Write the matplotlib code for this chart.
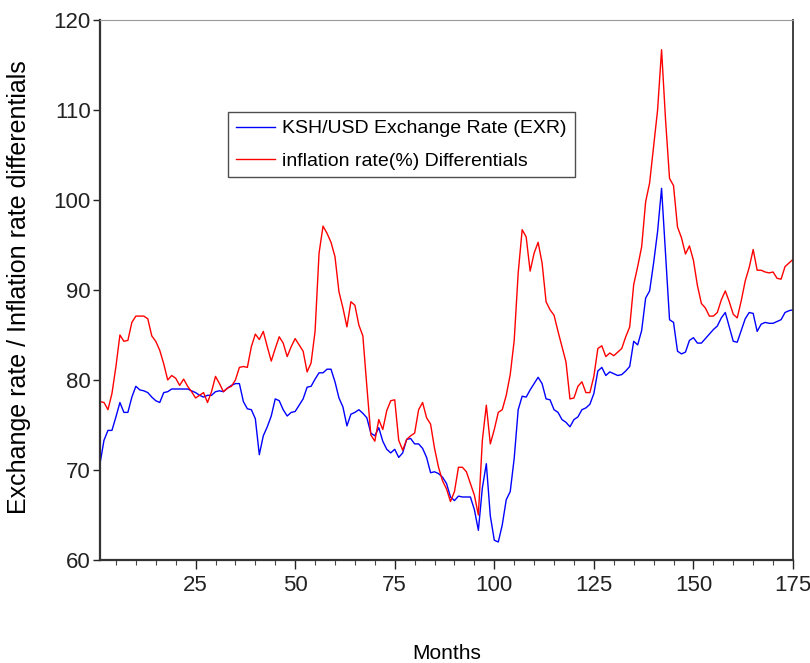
import numpy as np
import matplotlib
matplotlib.use('Agg')
import matplotlib.pyplot as plt
from matplotlib.ticker import MultipleLocator

plt.rcParams['font.family'] = ['Liberation Sans', 'DejaVu Sans']

exr = [70.7, 73.3, 74.4, 74.4, 75.9, 77.5, 76.4, 76.4, 78.1, 79.3,
       78.9, 78.8, 78.6, 78.1, 77.7, 77.5, 78.6, 78.7, 79.0, 79.0,
       79.0, 79.0, 79.0, 78.8, 78.6, 78.3, 78.1, 78.3, 78.3, 78.7,
       78.8, 78.7, 79.1, 79.4, 79.6, 79.6, 77.6, 76.8, 76.7, 75.7,
       71.7, 73.8, 74.8, 76.0, 77.9, 77.7, 76.7, 76.0, 76.4, 76.5,
       77.2, 77.9, 79.2, 79.3, 80.1, 80.8, 80.8, 81.2, 81.2, 79.8,
       78.0, 77.0, 74.9, 76.2, 76.4, 76.7, 76.3, 75.8, 74.1, 73.8,
       74.7, 73.2, 72.3, 71.9, 72.3, 71.4, 71.9, 73.4, 73.5, 72.9,
       72.9, 72.4, 71.4, 69.7, 69.8, 69.6, 69.2, 68.5, 67.0, 66.6,
       67.1, 67.0, 67.0, 67.0, 65.6, 63.3, 68.0, 70.7, 64.9, 62.2,
       62.0, 63.9, 66.7, 67.6, 71.3, 76.7, 78.2, 78.1, 78.9, 79.6,
       80.3, 79.6, 77.9, 77.8, 76.7, 76.4, 75.6, 75.3, 74.8, 75.6,
       75.9, 76.7, 76.9, 77.3, 78.5, 81.0, 81.4, 80.5, 80.9, 80.7,
       80.5, 80.6, 81.0, 81.5, 84.3, 83.9, 85.5, 89.1, 89.9, 93.0,
       96.5, 101.3, 94.0, 86.7, 86.4, 83.2, 82.9, 83.1, 84.4, 84.7,
       84.1, 84.1, 84.6, 85.1, 85.6, 86.0, 86.9, 87.5, 85.9, 84.3,
       84.2, 85.5, 86.8, 87.5, 87.4, 85.4, 86.2, 86.4, 86.3, 86.3,
       86.5, 86.7, 87.5, 87.7, 87.8]

infl = [77.6, 77.5, 76.7, 78.5, 81.5, 85.0, 84.3, 84.4, 86.4, 87.1,
        87.1, 87.1, 86.8, 84.9, 84.3, 83.3, 81.8, 80.0, 80.5, 80.2,
        79.4, 80.1, 79.3, 78.7, 78.0, 78.3, 78.6, 77.5, 78.7, 80.4,
        79.6, 78.7, 79.1, 79.3, 80.0, 81.4, 81.5, 81.4, 83.7, 85.1,
        84.5, 85.4, 83.7, 82.1, 83.5, 84.8, 84.1, 82.6, 83.7, 84.6,
        83.9, 83.2, 80.9, 81.9, 85.4, 94.1, 97.1, 96.3, 95.3, 93.7,
        89.8, 88.0, 85.9, 88.7, 88.3, 86.1, 84.9, 79.3, 73.9, 73.2,
        75.6, 74.5, 76.6, 77.7, 77.8, 73.3, 72.2, 73.4, 73.8, 74.1,
        76.7, 77.5, 75.8, 75.1, 72.4, 70.3, 68.8, 67.9, 66.5, 67.6,
        70.3, 70.3, 69.8, 68.5, 67.2, 65.0, 73.3, 77.2, 72.9, 74.5,
        76.4, 76.7, 78.3, 80.6, 84.4, 91.9, 96.7, 95.9, 92.1, 94.1,
        95.3, 93.0, 88.7, 87.8, 87.2, 85.4, 83.7, 82.0, 77.9, 78.0,
        79.3, 79.8, 78.6, 78.6, 80.4, 83.5, 83.8, 82.6, 83.0, 82.7,
        83.1, 83.5, 84.8, 85.9, 90.6, 92.6, 94.8, 99.8, 101.9, 105.9,
        110.0, 116.7, 108.9, 102.4, 101.6, 97.0, 95.8, 94.0, 94.9, 93.3,
        90.5, 88.5, 88.0, 87.1, 87.1, 87.5, 88.9, 89.9, 88.7, 87.3,
        86.9, 88.8, 91.0, 92.5, 94.5, 92.2, 92.2, 92.0, 91.9, 92.0,
        91.3, 91.2, 92.6, 93.0, 93.4]

months = np.arange(1, len(exr) + 1)
labels = ['KSH/USD Exchange Rate (EXR)', 'inflation rate(%) Differentials']

fig = plt.figure(figsize=(8.1, 6.63), dpi=100, facecolor='white')
ax = fig.add_axes([100/810, 103/663, 693/810, 540/663])

ax.plot(months, exr, color='#0000ff', lw=1.0, label=labels[0])
ax.plot(months, infl, color='#ff0000', lw=1.0, label=labels[1])

ax.set_xlim(1, 175)
ax.set_ylim(60, 120)
ax.set_xticks([25, 50, 75, 100, 125, 150, 175])
ax.xaxis.set_minor_locator(MultipleLocator(5))
ax.yaxis.set_major_locator(MultipleLocator(10))

ax.tick_params(axis='both', which='major', direction='out', width=1.0,
               labelsize=16, colors='#222222')
ax.tick_params(axis='x', which='major', length=6.5, pad=4)
ax.tick_params(axis='y', which='major', length=5, pad=1.5)
ax.tick_params(axis='x', which='minor', direction='out', length=3.5,
               width=0.8, colors='#444444')
ax.tick_params(top=False, right=False)

for side in ['left', 'bottom']:
    ax.spines[side].set_linewidth(1.6)
    ax.spines[side].set_color('#333333')
ax.spines['right'].set_linewidth(1.3)
ax.spines['right'].set_color('#333333')
ax.spines['top'].set_linewidth(0.8)
ax.spines['top'].set_color('#999999')

ax.set_xlabel('Months', fontsize=15)
ax.xaxis.set_label_coords(0.5, -0.155)
ax.set_ylabel('Exchange rate / Inflation rate differentials', fontsize=18)
# the anchor of a rotated y label is its right-hand edge
ax.yaxis.set_label_coords(-0.1, 0.505)

leg = ax.legend(loc='upper left', bbox_to_anchor=(0.1847, 0.8296),
                borderaxespad=0, fontsize=14, frameon=True, fancybox=False,
                handlelength=2.0, handletextpad=0.4, labelspacing=0.75,
                borderpad=0.4)
leg.get_frame().set_edgecolor('#222222')
leg.get_frame().set_linewidth(1.0)

fig.savefig('out.png', dpi=100, facecolor='white')
